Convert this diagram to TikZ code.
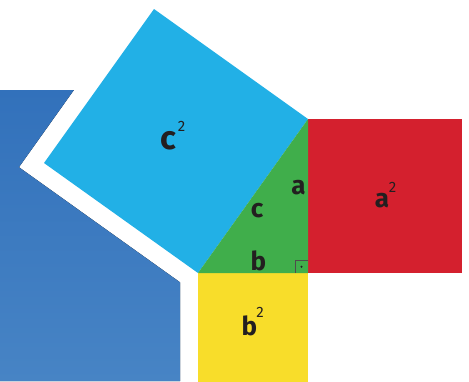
\documentclass[tikz,border=0pt]{standalone}
\usepackage{fontspec}
\setmainfont{Fira Sans}
\definecolor{bluebg1}{HTML}{3271BB}
\definecolor{bluebg2}{HTML}{4784C5}
\definecolor{cyansq}{HTML}{22B0E6}
\definecolor{redsq}{HTML}{D4202E}
\definecolor{greentri}{HTML}{40AE4B}
\definecolor{yellowsq}{HTML}{F8DD2A}
\definecolor{inkc}{HTML}{231F20}
\tikzset{
  lbl/.style={anchor=base, inner sep=0pt, text=inkc, font=\bfseries\fontsize{26}{26}\selectfont},
  biglbl/.style={lbl, font=\bfseries\fontsize{33}{33}\selectfont},
  sup/.style={anchor=base, inner sep=0pt, text=inkc, font=\fontsize{15}{15}\selectfont},
}
\begin{document}
\begin{tikzpicture}[x=1pt,y=-1pt]
\clip (0,0) rectangle (469,381);
\useasboundingbox (0,0) rectangle (469,381);
% blue background shape
\fill[top color=bluebg1, bottom color=bluebg2] (0,90) -- (73.9,90) -- (18.9,167.2) -- (180,282.3) -- (180,381) -- (0,381) -- cycle;
% squares
\fill[cyansq] (198,273) -- (308,119) -- (154,9) -- (44,163) -- cycle;
\fill[redsq] (308,119) rectangle (462,273);
\fill[yellowsq] (198,273) rectangle (308,383);
\fill[greentri] (198,273) -- (308,119) -- (308,273) -- cycle;
% right angle marker
\draw[inkc!80, line width=0.9pt] (308,260.5) -- (295,260.5) -- (295,273);
\fill[inkc] (301.5,266.8) circle (1.1);
% labels
\node[biglbl] (c2) at (168.5,149) {c};
\node[sup] (c2s) at (181.5,131.5) {2};
\node[lbl] (a2) at (382,207) {a};
\node[sup] (a2s) at (392.5,192.5) {2};
\node[lbl] (b2) at (249.5,335) {b};
\node[sup] (b2s) at (260,317.5) {2};
\node[lbl] (la) at (298.5,194) {a};
\node[lbl] (lc) at (257,217) {c};
\node[lbl] (lb) at (258.5,270) {b};
\end{tikzpicture}
\end{document}
